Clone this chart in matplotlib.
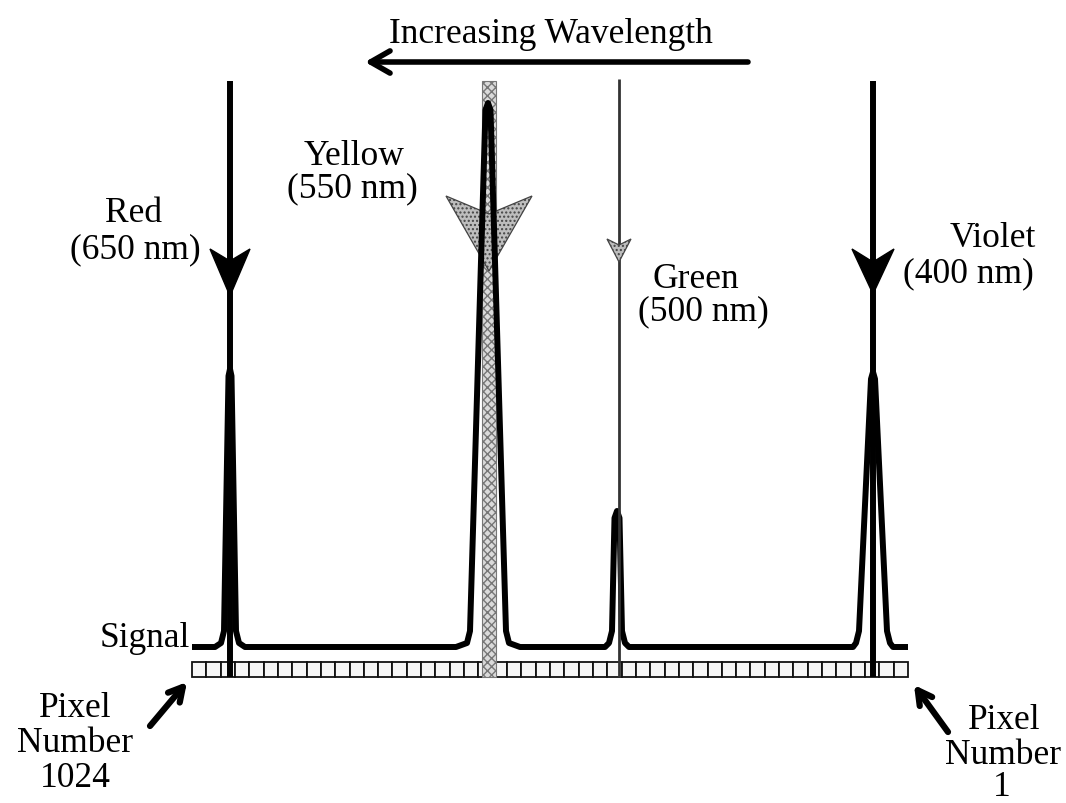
import matplotlib
matplotlib.use("Agg")
import matplotlib.pyplot as plt
from matplotlib.patches import Rectangle, Polygon

plt.rcParams['font.family'] = ['Liberation Serif', 'DejaVu Serif']

# picture is laid out in pixel units (y grows downwards)
W, H = 1066, 804

# beams / peaks, left to right on the detector
names = ['Red', 'Yellow', 'Green', 'Violet']
waves = ['(650 nm)', '(550 nm)', '(500 nm)', '(400 nm)']
beam_x = [230, 489, 619, 873]
beam_top = [82, 82, 80, 82]
peak_x = [230, 488, 617, 873]
peak_top = [370, 104, 512, 373]
peak_half_top = [1.5, 2.5, 2.5, 2.0]
peak_half_side = [6, 18, 5, 14]
peak_half_foot = [15, 32, 12, 20]

# arrowheads on the beams: back y, tip y, notch y, half width
head_back = [250, 197, 240, 250]
head_tip = [297, 272, 263, 295]
head_notch = [262, 215, 246, 263]
head_half = [20, 43, 12, 21]

# label positions (centre x, baseline y of the two lines)
name_x = [134, 354, 696, 993]
name_y = [222, 165, 288, 247]
wave_x = [135, 352, 703, 968]
wave_y = [258, 197, 320, 282]

baseline = 648
sig_left, sig_right = 192, 908
n_pixels = 50
strip_top, strip_bot = 663, 678

fs = 25.5

fig = plt.figure(figsize=(W / 100, H / 100), dpi=100)
ax = fig.add_axes([0, 0, 1, 1])
ax.set_xlim(0, W)
ax.set_ylim(H, 0)
ax.axis('off')

# pixel strip
cell = (sig_right - sig_left) / n_pixels
for i in range(n_pixels):
    ax.add_patch(Rectangle((sig_left + i * cell, strip_top), cell, strip_bot - strip_top,
                           facecolor='#f6f6f6', edgecolor='#111111', lw=1.3, zorder=1))

# yellow beam (grey band)
ax.add_patch(Rectangle((beam_x[1] - 7, beam_top[1]), 14, strip_bot - beam_top[1],
                       facecolor='#dadada', edgecolor='#777777', lw=0.8,
                       hatch='xxxx', zorder=2))

# other beams
ax.plot([beam_x[0], beam_x[0]], [beam_top[0], strip_bot], color='black', lw=4.3, zorder=5,
        solid_capstyle='butt')
ax.plot([beam_x[3], beam_x[3]], [beam_top[3], strip_bot], color='black', lw=4.3, zorder=5,
        solid_capstyle='butt')
ax.plot([beam_x[2], beam_x[2]], [beam_top[2], strip_bot], color='#333333', lw=2.0, zorder=5,
        solid_capstyle='butt')

# signal trace
sx = [sig_left]
sy = [baseline]
for c, t, ht, hs, hf in zip(peak_x, peak_top, peak_half_top, peak_half_side, peak_half_foot):
    sx += [c - hf, c - hs - 3, c - hs, c - ht, c, c + ht, c + hs, c + hs + 3, c + hf]
    sy += [baseline, baseline - 4, baseline - 16, t + 7, t, t + 7, baseline - 16, baseline - 4, baseline]
sx.append(sig_right)
sy.append(baseline)
ax.plot(sx, sy, color='black', lw=4.3, solid_joinstyle='round', solid_capstyle='butt', zorder=4)

# arrowheads on beams
for i in range(4):
    c = beam_x[i]
    pts = [(c - head_half[i], head_back[i]), (c, head_notch[i]),
           (c + head_half[i], head_back[i]), (c, head_tip[i])]
    if i in (1, 2):
        ax.add_patch(Polygon(pts, closed=True, facecolor='#bdbdbd', edgecolor='#444444',
                             lw=0.9, hatch='....', zorder=3 if i == 1 else 6))
    else:
        ax.add_patch(Polygon(pts, closed=True, facecolor='black', edgecolor='black',
                             lw=1, zorder=6))

# labels
for i in range(4):
    ax.text(name_x[i], name_y[i], names[i], fontsize=fs, ha='center', va='baseline')
    ax.text(wave_x[i], wave_y[i], waves[i], fontsize=fs, ha='center', va='baseline')

ax.text(190, 647, 'Signal', fontsize=fs, ha='right', va='baseline')

# title arrow
ax.text(551, 43, 'Increasing Wavelength', fontsize=fs, ha='center', va='baseline')
ax.annotate('', xy=(365, 63), xytext=(748, 63),
            arrowprops=dict(arrowstyle='->,head_length=1.4,head_width=0.8', lw=4,
                            color='black', shrinkA=0, shrinkB=0))

# pixel number labels
for x, y, s in [(75, 717, 'Pixel'), (75, 752, 'Number'), (75, 787, '1024'),
                (1004, 729, 'Pixel'), (1003, 764, 'Number'), (1002, 796, '1')]:
    ax.text(x, y, s, fontsize=fs, ha='center', va='baseline')

ax.annotate('', xy=(187, 683), xytext=(150, 727),
            arrowprops=dict(arrowstyle='->,head_length=1.0,head_width=0.55', lw=4.5,
                            color='black', shrinkA=0, shrinkB=0))
ax.annotate('', xy=(914, 686), xytext=(948, 733),
            arrowprops=dict(arrowstyle='->,head_length=1.0,head_width=0.55', lw=4.5,
                            color='black', shrinkA=0, shrinkB=0))

fig.savefig('out.png', dpi=100)
